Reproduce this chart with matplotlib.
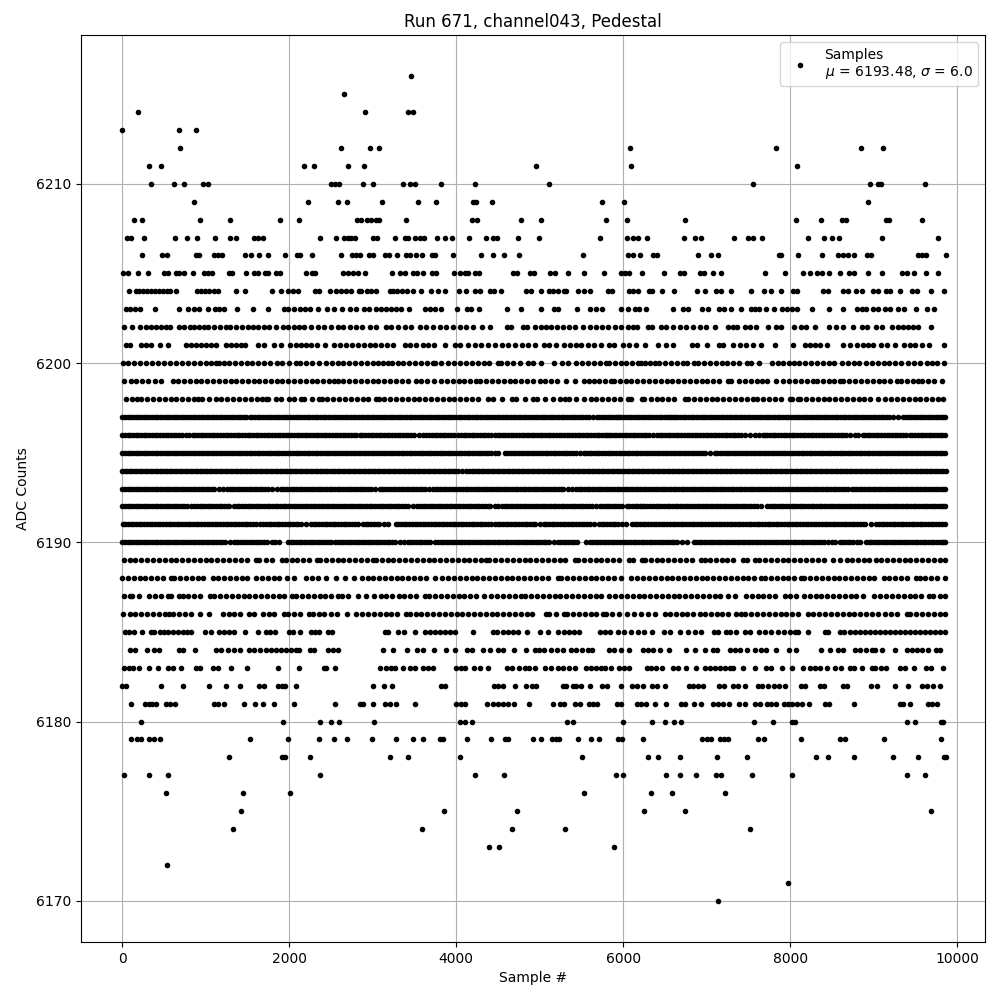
import matplotlib
matplotlib.use('Agg')
import matplotlib.pyplot as plt
import numpy as np

# Sample numbers, one list per ADC level
adc_6216 = [3456]
adc_6215 = [2652]
adc_6214 = [192, 2904, 3420, 3484]
adc_6213 = [0, 684, 888]
adc_6212 = [696, 2616, 2964, 3072, 6088, 7828, 8848, 9112]
adc_6211 = [324, 468, 2184, 2304, 2700, 2892, 4952, 6100, 8080]
adc_6210 = [348, 624, 744, 972, 1032, 2504, 2544, 2592, 2880, 3000, 3360, 3444, 3504, 3816, 4224, 5116, 7552, 8956, 9056, 9088, 9616]
adc_6209 = [864, 2232, 2580, 2688, 3108, 3540, 3756, 4204, 4236, 4428, 5752, 6016, 8932]
adc_6208 = [144, 240, 936, 1296, 1896, 2124, 2816, 2856, 2928, 2984, 3044, 3080, 3396, 4196, 4252, 4776, 5020, 5800, 6052, 6736, 8068, 8368, 8624, 8664, 9144, 9184, 9580]
adc_6207 = [64, 104, 264, 636, 780, 900, 1116, 1296, 1368, 1584, 1624, 1692, 2376, 2556, 2652, 2700, 2740, 2784, 3004, 3052, 3264, 3384, 3424, 3504, 3564, 3616, 3768, 3864, 3948, 4152, 4356, 4436, 4492, 4740, 4988, 5728, 6052, 6120, 6176, 6292, 6724, 6864, 6928, 7324, 7492, 7556, 7660, 8212, 8404, 8500, 8584, 9100, 9772]
adc_6206 = [240, 476, 532, 884, 924, 1104, 1144, 1192, 1476, 1548, 1644, 1752, 1956, 2096, 2136, 2280, 2616, 2748, 2804, 2852, 2952, 3004, 3152, 3192, 3288, 3396, 3452, 3520, 3592, 3712, 3752, 3960, 4296, 4440, 4572, 4752, 5524, 6060, 6116, 6208, 6356, 6404, 6896, 7056, 7132, 7872, 7896, 8092, 8380, 8576, 8636, 8696, 8764, 8920, 8972, 9536, 9584, 9632, 9864]
adc_6205 = [16, 72, 192, 312, 504, 544, 644, 684, 736, 852, 984, 1032, 1080, 1284, 1312, 1488, 1576, 1624, 1712, 1752, 1844, 1896, 2208, 2276, 2312, 2644, 2704, 2764, 2824, 2904, 3228, 3328, 3384, 3488, 3536, 3608, 3716, 3764, 3976, 4044, 4104, 4144, 4232, 4280, 4680, 4732, 4884, 4932, 5128, 5188, 5344, 5536, 5776, 5976, 6024, 6076, 6224, 6484, 6676, 6728, 6916, 6968, 7072, 7168, 7696, 7936, 8152, 8236, 8328, 8376, 8464, 8596, 8704, 8768, 8932, 9100, 9340, 9400, 9484, 9628, 9772]
adc_6204 = [84, 164, 204, 256, 304, 344, 392, 444, 492, 536, 576, 644, 896, 944, 996, 1044, 1096, 1152, 1364, 1476, 1800, 1908, 1992, 2044, 2104, 2312, 2360, 2488, 2564, 2624, 2684, 2744, 2832, 2864, 2928, 2984, 3036, 3204, 3244, 3296, 3352, 3416, 3484, 3584, 3704, 3780, 3864, 4032, 4116, 4224, 4284, 4404, 4456, 4536, 4836, 4896, 5020, 5116, 5156, 5224, 5288, 5320, 5464, 5528, 5608, 5816, 5864, 6076, 6120, 6184, 6316, 6344, 6460, 6604, 6884, 6976, 7108, 7176, 7296, 7536, 7688, 7776, 7888, 8036, 8084, 8392, 8456, 8628, 8688, 8788, 8864, 8996, 9048, 9144, 9200, 9316, 9456, 9516, 9688, 9844]
adc_6203 = [44, 96, 152, 216, 396, 680, 792, 856, 924, 1024, 1108, 1164, 1224, 1380, 1572, 1744, 1944, 1984, 2064, 2136, 2192, 2256, 2352, 2460, 2536, 2636, 2728, 2796, 2896, 2952, 3044, 3104, 3164, 3224, 3284, 3344, 3432, 3624, 3684, 3744, 3824, 4016, 4128, 4184, 4280, 4604, 4776, 5016, 5176, 5224, 5452, 5608, 5676, 5744, 5976, 6060, 6144, 6196, 6276, 6596, 6720, 6776, 6940, 7012, 7148, 7208, 7296, 7408, 7528, 7584, 7624, 7708, 7804, 7904, 7968, 8024, 8080, 8260, 8468, 8636, 8796, 8856, 8904, 8996, 9056, 9136, 9196, 9296, 9364, 9508, 9640, 9720]
adc_6202 = [24, 124, 216, 284, 344, 404, 464, 524, 576, 684, 744, 816, 864, 924, 976, 1032, 1096, 1176, 1244, 1296, 1364, 1432, 1504, 1564, 1632, 1696, 1764, 1844, 1924, 1984, 2056, 2124, 2184, 2264, 2344, 2424, 2504, 2584, 2644, 2724, 2804, 2872, 2964, 3036, 3164, 3224, 3304, 3384, 3464, 3564, 3644, 3724, 3804, 3884, 3964, 4044, 4124, 4204, 4316, 4408, 4604, 4660, 4804, 4844, 4940, 5016, 5076, 5136, 5208, 5276, 5356, 5424, 5516, 5608, 5676, 5744, 5824, 5904, 5976, 6056, 6116, 6168, 6304, 6344, 6448, 6516, 6596, 6676, 6756, 6836, 6916, 6996, 7096, 7252, 7316, 7368, 7456, 7516, 7596, 7732, 7828, 7888, 8048, 8128, 8196, 8296, 8464, 8544, 8636, 8752, 8856, 8916, 9024, 9096, 9216, 9296, 9356, 9416, 9476, 9536, 9692]
adc_6201 = [44, 96, 224, 284, 352, 456, 552, 764, 824, 884, 944, 1004, 1064, 1124, 1244, 1304, 1364, 1424, 1472, 1624, 1696, 1824, 1904, 2016, 2084, 2144, 2204, 2264, 2336, 2436, 2536, 2604, 2684, 2752, 2824, 2896, 2964, 3032, 3104, 3176, 3244, 3384, 3452, 3524, 3604, 3664, 3732, 3864, 3992, 4044, 4144, 4224, 4304, 4384, 4464, 4544, 4624, 4704, 4784, 4864, 4944, 5048, 5116, 5196, 5296, 5368, 5436, 5496, 5576, 5656, 5736, 5836, 5896, 5996, 6076, 6156, 6268, 6416, 6516, 6596, 6824, 6888, 7004, 7148, 7196, 7316, 7396, 7476, 7556, 7656, 7816, 8036, 8176, 8236, 8296, 8356, 8436, 8636, 8716, 8796, 8876, 8936, 8996, 9088, 9156, 9256, 9368, 9436, 9496, 9576, 9664, 9848]
adc_6200 = [8, 70, 140, 210, 290, 360, 430, 500, 570, 640, 716, 790, 860, 930, 1000, 1060, 1120, 1156, 1220, 1280, 1348, 1420, 1490, 1560, 1630, 1700, 1770, 1850, 1920, 1996, 2080, 2128, 2200, 2280, 2360, 2440, 2508, 2580, 2650, 2720, 2790, 2860, 2930, 3000, 3070, 3130, 3190, 3228, 3300, 3370, 3440, 3510, 3580, 3650, 3720, 3752, 3824, 3908, 3980, 4050, 4120, 4190, 4260, 4330, 4400, 4500, 4540, 4610, 4680, 4768, 4860, 4916, 5016, 5168, 5264, 5344, 5432, 5510, 5580, 5652, 5720, 5792, 5828, 5900, 5970, 6040, 6110, 6180, 6212, 6260, 6320, 6380, 6428, 6500, 6570, 6640, 6712, 6760, 6850, 6900, 6970, 7040, 7110, 7180, 7250, 7320, 7390, 7484, 7536, 7624, 7780, 7850, 7920, 7990, 8052, 8112, 8180, 8250, 8320, 8390, 8464, 8524, 8620, 8690, 8760, 8830, 8912, 8980, 9050, 9120, 9190, 9260, 9330, 9412, 9480, 9552, 9640, 9700, 9764, 9840]
adc_6199 = [24, 104, 170, 240, 310, 390, 464, 604, 670, 740, 810, 880, 950, 1020, 1090, 1160, 1230, 1300, 1370, 1440, 1510, 1580, 1644, 1712, 1780, 1850, 1920, 1990, 2060, 2130, 2200, 2270, 2340, 2410, 2480, 2536, 2584, 2650, 2720, 2790, 2860, 2930, 3000, 3070, 3140, 3210, 3280, 3350, 3420, 3524, 3576, 3650, 3736, 3816, 3890, 3960, 4030, 4100, 4170, 4244, 4292, 4360, 4430, 4500, 4570, 4640, 4710, 4780, 4850, 4916, 5000, 5070, 5140, 5210, 5316, 5428, 5536, 5596, 5656, 5708, 5780, 5856, 5888, 5960, 6030, 6100, 6170, 6240, 6310, 6380, 6450, 6520, 6590, 6660, 6730, 6800, 6870, 6940, 7010, 7080, 7150, 7256, 7296, 7384, 7456, 7530, 7600, 7664, 7728, 7836, 7916, 7990, 8060, 8130, 8200, 8270, 8328, 8388, 8460, 8530, 8596, 8636, 8710, 8780, 8850, 8920, 8990, 9060, 9130, 9200, 9276, 9324, 9400, 9470, 9536, 9576, 9650, 9720, 9816]
adc_6198 = [44, 120, 184, 232, 300, 370, 440, 510, 580, 650, 720, 790, 860, 904, 952, 1044, 1124, 1190, 1260, 1330, 1400, 1470, 1540, 1610, 1680, 1724, 1744, 1844, 1904, 2004, 2056, 2144, 2184, 2270, 2364, 2392, 2460, 2530, 2600, 2670, 2740, 2810, 2880, 2950, 3044, 3072, 3140, 3210, 3280, 3350, 3420, 3490, 3560, 3630, 3700, 3770, 3840, 3910, 3980, 4050, 4120, 4190, 4260, 4384, 4444, 4550, 4664, 4712, 4820, 4924, 4964, 5060, 5156, 5248, 5304, 5356, 5436, 5536, 5610, 5680, 5750, 5820, 5890, 5960, 6056, 6096, 6224, 6256, 6330, 6400, 6470, 6540, 6610, 6736, 6776, 6850, 6920, 6990, 7060, 7130, 7200, 7270, 7340, 7410, 7480, 7556, 7608, 7680, 7750, 7820, 7890, 7996, 8028, 8096, 8116, 8190, 8260, 8330, 8400, 8470, 8540, 8610, 8680, 8750, 8820, 8890, 8960, 9056, 9136, 9210, 9280, 9350, 9420, 9490, 9560, 9630, 9700, 9770, 9836]
adc_6197 = [0, 32, 65, 97, 130, 162, 195, 227, 260, 292, 325, 357, 390, 422, 455, 487, 520, 552, 585, 617, 650, 682, 715, 747, 780, 812, 845, 877, 910, 942, 975, 1007, 1040, 1072, 1105, 1137, 1170, 1202, 1235, 1267, 1300, 1332, 1365, 1397, 1430, 1460, 1484, 1528, 1560, 1590, 1625, 1655, 1690, 1720, 1755, 1785, 1820, 1850, 1885, 1915, 1950, 1980, 2015, 2045, 2080, 2110, 2145, 2175, 2210, 2240, 2275, 2305, 2340, 2370, 2405, 2435, 2470, 2500, 2535, 2565, 2600, 2630, 2665, 2695, 2730, 2760, 2795, 2825, 2860, 2890, 2925, 2955, 2990, 3020, 3055, 3085, 3120, 3150, 3185, 3215, 3250, 3280, 3315, 3345, 3380, 3410, 3445, 3475, 3510, 3540, 3575, 3605, 3640, 3670, 3705, 3735, 3770, 3800, 3835, 3865, 3900, 3930, 3965, 3995, 4030, 4060, 4095, 4125, 4160, 4190, 4225, 4255, 4290, 4320, 4355, 4385, 4420, 4450, 4485, 4515, 4550, 4580, 4615, 4645, 4680, 4710, 4745, 4775, 4810, 4840, 4875, 4905, 4940, 4970, 5005, 5035, 5070, 5100, 5135, 5165, 5200, 5230, 5265, 5295, 5330, 5360, 5395, 5425, 5460, 5490, 5525, 5555, 5590, 5636, 5684, 5716, 5750, 5782, 5815, 5847, 5880, 5912, 5944, 5968, 6000, 6035, 6065, 6100, 6130, 6165, 6195, 6230, 6260, 6295, 6325, 6360, 6390, 6425, 6455, 6490, 6520, 6555, 6575, 6596, 6616, 6648, 6680, 6712, 6745, 6777, 6810, 6842, 6875, 6907, 6940, 6972, 7005, 7037, 7070, 7102, 7135, 7167, 7200, 7232, 7265, 7297, 7330, 7362, 7395, 7427, 7460, 7492, 7525, 7557, 7590, 7622, 7655, 7687, 7720, 7752, 7785, 7817, 7850, 7882, 7915, 7947, 7980, 8012, 8045, 8077, 8110, 8142, 8175, 8207, 8240, 8272, 8305, 8337, 8370, 8402, 8435, 8467, 8500, 8532, 8565, 8597, 8630, 8662, 8695, 8727, 8760, 8792, 8825, 8857, 8890, 8922, 8955, 8987, 9020, 9052, 9085, 9117, 9150, 9190, 9236, 9296, 9356, 9388, 9420, 9452, 9485, 9517, 9550, 9582, 9615, 9647, 9680, 9712, 9745, 9777, 9810, 9835, 9860]
adc_6196 = [0, 32, 65, 97, 130, 162, 195, 227, 260, 292, 325, 357, 390, 422, 455, 487, 520, 552, 585, 617, 650, 682, 715, 760, 804, 844, 877, 910, 942, 975, 1007, 1040, 1072, 1105, 1137, 1170, 1207, 1244, 1272, 1306, 1340, 1372, 1405, 1437, 1470, 1502, 1535, 1567, 1600, 1632, 1665, 1700, 1736, 1764, 1797, 1830, 1862, 1895, 1927, 1960, 1992, 2025, 2057, 2090, 2122, 2155, 2187, 2220, 2252, 2285, 2317, 2350, 2382, 2415, 2447, 2480, 2512, 2545, 2577, 2610, 2642, 2675, 2707, 2740, 2772, 2804, 2844, 2877, 2910, 2942, 2975, 3007, 3040, 3072, 3105, 3137, 3170, 3202, 3235, 3267, 3300, 3332, 3365, 3397, 3430, 3462, 3495, 3550, 3604, 3644, 3677, 3710, 3742, 3775, 3807, 3840, 3872, 3905, 3940, 3976, 4024, 4057, 4090, 4122, 4155, 4187, 4220, 4252, 4285, 4317, 4350, 4382, 4415, 4460, 4504, 4524, 4557, 4590, 4622, 4655, 4687, 4720, 4752, 4785, 4817, 4850, 4877, 4904, 4936, 4968, 5000, 5032, 5065, 5097, 5130, 5162, 5195, 5227, 5260, 5292, 5325, 5357, 5390, 5422, 5455, 5487, 5520, 5552, 5585, 5617, 5650, 5682, 5715, 5747, 5780, 5808, 5836, 5856, 5888, 5920, 5952, 5985, 6017, 6050, 6082, 6115, 6147, 6180, 6212, 6245, 6277, 6310, 6360, 6408, 6436, 6468, 6500, 6532, 6565, 6597, 6630, 6662, 6695, 6727, 6760, 6792, 6825, 6857, 6890, 6922, 6955, 6987, 7020, 7052, 7085, 7117, 7150, 7182, 7215, 7247, 7280, 7312, 7345, 7377, 7410, 7460, 7516, 7584, 7630, 7676, 7696, 7728, 7760, 7792, 7825, 7857, 7890, 7922, 7955, 7987, 8020, 8052, 8085, 8117, 8150, 8182, 8215, 8247, 8280, 8312, 8345, 8377, 8410, 8442, 8475, 8507, 8540, 8572, 8605, 8637, 8670, 8722, 8776, 8816, 8876, 8896, 8928, 8960, 8992, 9025, 9057, 9090, 9122, 9155, 9187, 9220, 9252, 9285, 9317, 9350, 9393, 9436, 9464, 9497, 9530, 9562, 9595, 9627, 9660, 9692, 9725, 9757, 9790, 9822, 9856]
adc_6195 = [0, 65, 130, 195, 260, 325, 390, 455, 520, 585, 650, 715, 780, 845, 910, 975, 1040, 1105, 1170, 1235, 1300, 1365, 1430, 1495, 1560, 1625, 1690, 1755, 1820, 1885, 1950, 2015, 2080, 2145, 2210, 2275, 2340, 2405, 2470, 2535, 2600, 2665, 2730, 2795, 2860, 2925, 2990, 3055, 3120, 3185, 3250, 3315, 3380, 3445, 3510, 3575, 3640, 3705, 3770, 3835, 3900, 3965, 4030, 4095, 4160, 4225, 4290, 4355, 4420, 4500, 4580, 4645, 4710, 4775, 4840, 4905, 4970, 5040, 5105, 5170, 5235, 5300, 5365, 5430, 5536, 5556, 5620, 5685, 5750, 5815, 5880, 5945, 6010, 6075, 6140, 6205, 6270, 6335, 6400, 6465, 6530, 6595, 6660, 6725, 6790, 6855, 6920, 6985, 7096, 7128, 7195, 7260, 7325, 7390, 7455, 7520, 7585, 7650, 7715, 7780, 7845, 7910, 7975, 8040, 8105, 8170, 8235, 8300, 8365, 8430, 8495, 8560, 8625, 8690, 8755, 8820, 8885, 8950, 9015, 9080, 9145, 9210, 9275, 9340, 9405, 9470, 9535, 9600, 9665, 9730, 9795, 9850]
adc_6195b = [32, 97, 162, 227, 292, 357, 422, 487, 552, 617, 682, 747, 812, 877, 942, 1007, 1072, 1137, 1202, 1267, 1332, 1397, 1462, 1527, 1592, 1657, 1722, 1787, 1852, 1917, 1982, 2047, 2112, 2177, 2242, 2307, 2372, 2437, 2502, 2567, 2632, 2697, 2762, 2827, 2892, 2957, 3022, 3087, 3152, 3217, 3282, 3347, 3412, 3477, 3542, 3607, 3672, 3737, 3802, 3867, 3932, 3997, 4062, 4127, 4192, 4257, 4322, 4387, 4460, 4612, 4677, 4742, 4807, 4872, 4937, 5005, 5072, 5137, 5202, 5267, 5332, 5397, 5480, 5588, 5652, 5717, 5782, 5847, 5912, 5977, 6042, 6107, 6172, 6237, 6302, 6367, 6432, 6497, 6562, 6627, 6692, 6757, 6822, 6887, 6952, 7040, 7160, 7227, 7292, 7357, 7422, 7487, 7552, 7617, 7682, 7747, 7812, 7877, 7942, 8007, 8072, 8137, 8202, 8267, 8332, 8397, 8462, 8527, 8592, 8657, 8722, 8787, 8852, 8917, 8982, 9047, 9112, 9177, 9242, 9307, 9372, 9437, 9502, 9567, 9632, 9697, 9762, 9825]
adc_6194 = [0, 60, 120, 180, 240, 300, 360, 420, 480, 540, 600, 660, 720, 780, 840, 900, 960, 1020, 1080, 1140, 1200, 1260, 1320, 1380, 1440, 1500, 1560, 1620, 1680, 1740, 1800, 1860, 1920, 1980, 2040, 2100, 2160, 2220, 2280, 2340, 2400, 2460, 2520, 2580, 2640, 2700, 2760, 2820, 2880, 2940, 3000, 3060, 3120, 3180, 3240, 3300, 3360, 3420, 3480, 3540, 3600, 3660, 3720, 3780, 3840, 3900, 3960, 4020, 4120, 4152, 4215, 4275, 4335, 4395, 4455, 4515, 4575, 4635, 4695, 4755, 4815, 4875, 4935, 4995, 5055, 5115, 5175, 5235, 5295, 5355, 5415, 5475, 5535, 5595, 5655, 5715, 5775, 5835, 5895, 5955, 6015, 6075, 6135, 6195, 6255, 6315, 6375, 6435, 6495, 6555, 6615, 6675, 6735, 6795, 6855, 6915, 6975, 7035, 7095, 7155, 7215, 7275, 7335, 7395, 7455, 7515, 7575, 7635, 7695, 7755, 7815, 7875, 7935, 7995, 8055, 8115, 8175, 8235, 8295, 8355, 8415, 8475, 8535, 8595, 8655, 8715, 8775, 8835, 8895, 8955, 9015, 9075, 9135, 9195, 9255, 9315, 9375, 9435, 9495, 9555, 9615, 9675, 9735, 9795, 9864]
adc_6194b = [30, 90, 150, 210, 270, 330, 390, 450, 510, 570, 630, 690, 750, 810, 870, 930, 990, 1050, 1110, 1170, 1230, 1290, 1350, 1410, 1470, 1530, 1590, 1650, 1710, 1770, 1830, 1890, 1950, 2010, 2070, 2130, 2190, 2250, 2310, 2370, 2430, 2490, 2550, 2610, 2670, 2730, 2790, 2850, 2910, 2970, 3030, 3090, 3150, 3210, 3270, 3330, 3390, 3450, 3510, 3570, 3630, 3690, 3750, 3810, 3870, 3930, 3990, 4070, 4185, 4245, 4305, 4365, 4425, 4485, 4545, 4605, 4665, 4725, 4785, 4845, 4905, 4965, 5025, 5085, 5145, 5205, 5265, 5325, 5385, 5445, 5505, 5565, 5625, 5685, 5745, 5805, 5865, 5925, 5985, 6045, 6105, 6165, 6225, 6285, 6345, 6405, 6465, 6525, 6585, 6645, 6705, 6765, 6825, 6885, 6945, 7005, 7065, 7125, 7185, 7245, 7305, 7365, 7425, 7485, 7545, 7605, 7665, 7725, 7785, 7845, 7905, 7965, 8025, 8085, 8145, 8205, 8265, 8325, 8385, 8445, 8505, 8565, 8625, 8685, 8745, 8805, 8865, 8925, 8985, 9045, 9105, 9165, 9225, 9285, 9345, 9405, 9465, 9525, 9585, 9645, 9705, 9765, 9830]
adc_6193 = [0, 65, 130, 195, 260, 325, 390, 455, 520, 585, 650, 715, 780, 845, 910, 975, 1040, 1105, 1212, 1256, 1320, 1385, 1450, 1515, 1580, 1616, 1680, 1745, 1860, 1900, 1965, 2030, 2095, 2160, 2225, 2290, 2355, 2420, 2485, 2550, 2615, 2680, 2745, 2812, 2844, 2910, 2975, 3084, 3108, 3175, 3240, 3305, 3370, 3435, 3500, 3565, 3630, 3720, 3756, 3820, 3885, 3950, 4015, 4080, 4116, 4180, 4245, 4310, 4375, 4440, 4505, 4570, 4635, 4700, 4765, 4830, 4895, 4960, 5025, 5090, 5155, 5220, 5285, 5392, 5432, 5500, 5565, 5630, 5695, 5760, 5825, 5890, 5955, 6020, 6085, 6150, 6215, 6280, 6345, 6410, 6475, 6540, 6605, 6670, 6735, 6800, 6865, 6930, 6995, 7060, 7125, 7190, 7255, 7320, 7385, 7450, 7515, 7580, 7645, 7710, 7775, 7840, 7905, 7970, 8035, 8100, 8165, 8230, 8295, 8360, 8425, 8490, 8555, 8620, 8692, 8736, 8800, 8865, 8930, 8992, 9016, 9080, 9145, 9210, 9275, 9340, 9405, 9470, 9535, 9600, 9665, 9730, 9795, 9860]
adc_6193b = [32, 97, 162, 227, 292, 357, 422, 487, 552, 617, 682, 747, 812, 877, 942, 1007, 1072, 1160, 1288, 1352, 1417, 1482, 1548, 1648, 1712, 1800, 1932, 1997, 2062, 2127, 2192, 2257, 2322, 2387, 2452, 2517, 2582, 2647, 2712, 2778, 2877, 2942, 3030, 3141, 3207, 3272, 3337, 3402, 3467, 3532, 3597, 3675, 3788, 3852, 3917, 3982, 4047, 4148, 4212, 4277, 4342, 4407, 4472, 4537, 4602, 4667, 4732, 4797, 4862, 4927, 4992, 5057, 5122, 5187, 5252, 5338, 5466, 5532, 5597, 5662, 5727, 5792, 5857, 5922, 5987, 6052, 6117, 6182, 6247, 6312, 6377, 6442, 6507, 6572, 6637, 6702, 6767, 6832, 6897, 6962, 7027, 7092, 7157, 7222, 7287, 7352, 7417, 7482, 7547, 7612, 7677, 7742, 7807, 7872, 7937, 8002, 8067, 8132, 8197, 8262, 8327, 8392, 8457, 8522, 8587, 8655, 8768, 8832, 8897, 8960, 9048, 9112, 9177, 9242, 9307, 9372, 9437, 9502, 9567, 9632, 9697, 9762, 9827]
adc_6192 = [0, 65, 130, 195, 260, 325, 390, 455, 520, 585, 650, 715, 780, 860, 896, 960, 1025, 1090, 1155, 1220, 1285, 1380, 1404, 1470, 1535, 1600, 1665, 1730, 1795, 1860, 1925, 1990, 2055, 2120, 2185, 2250, 2315, 2380, 2445, 2510, 2575, 2640, 2705, 2770, 2835, 2900, 2965, 3030, 3095, 3160, 3225, 3290, 3355, 3420, 3532, 3568, 3630, 3695, 3760, 3825, 3890, 3955, 4020, 4085, 4150, 4215, 4280, 4345, 4410, 4500, 4552, 4615, 4680, 4745, 4810, 4875, 4940, 5005, 5070, 5135, 5200, 5265, 5330, 5395, 5460, 5525, 5590, 5680, 5728, 5790, 5855, 5920, 5985, 6044, 6076, 6140, 6205, 6256, 6288, 6328, 6390, 6455, 6520, 6585, 6650, 6684, 6750, 6815, 6880, 6945, 7010, 7075, 7140, 7205, 7270, 7335, 7400, 7465, 7530, 7600, 7656, 7728, 7790, 7855, 7920, 7985, 8050, 8115, 8180, 8245, 8310, 8375, 8440, 8505, 8570, 8635, 8700, 8765, 8830, 8895, 8960, 9025, 9090, 9155, 9220, 9285, 9350, 9415, 9480, 9545, 9610, 9675, 9740, 9805, 9860]
adc_6192b = [32, 97, 162, 227, 292, 357, 422, 487, 552, 617, 682, 747, 820, 928, 992, 1057, 1122, 1187, 1252, 1335, 1437, 1502, 1567, 1632, 1697, 1762, 1827, 1892, 1957, 2022, 2087, 2152, 2217, 2282, 2347, 2412, 2477, 2542, 2607, 2672, 2737, 2802, 2867, 2932, 2997, 3062, 3127, 3192, 3257, 3322, 3387, 3480, 3600, 3662, 3727, 3792, 3857, 3922, 3987, 4052, 4117, 4182, 4247, 4312, 4377, 4460, 4584, 4647, 4712, 4777, 4842, 4907, 4972, 5037, 5102, 5167, 5232, 5297, 5362, 5427, 5492, 5557, 5630, 5760, 5822, 5887, 5952, 6108, 6172, 6230, 6360, 6422, 6487, 6552, 6617, 6717, 6782, 6847, 6912, 6977, 7042, 7107, 7172, 7237, 7302, 7367, 7432, 7497, 7565, 7760, 7822, 7887, 7952, 8017, 8082, 8147, 8212, 8277, 8342, 8407, 8472, 8537, 8602, 8667, 8732, 8797, 8862, 8927, 8992, 9057, 9122, 9187, 9252, 9317, 9382, 9447, 9512, 9577, 9642, 9707, 9772, 9832]
adc_6191 = [8, 70, 135, 200, 265, 330, 395, 460, 525, 590, 655, 720, 785, 850, 915, 980, 1045, 1110, 1175, 1240, 1305, 1370, 1435, 1500, 1565, 1650, 1690, 1755, 1820, 1885, 1950, 2015, 2080, 2145, 2260, 2296, 2360, 2425, 2490, 2555, 2620, 2685, 2750, 2828, 2888, 2950, 3015, 3080, 3190, 3276, 3340, 3405, 3470, 3535, 3600, 3665, 3730, 3795, 3860, 3925, 3990, 4055, 4120, 4185, 4250, 4315, 4380, 4460, 4496, 4560, 4625, 4690, 4755, 4820, 4885, 4950, 5056, 5080, 5145, 5210, 5275, 5340, 5405, 5470, 5535, 5600, 5710, 5744, 5810, 5875, 5940, 6040, 6108, 6170, 6235, 6300, 6365, 6430, 6495, 6560, 6625, 6690, 6755, 6820, 6885, 6950, 7015, 7080, 7145, 7210, 7275, 7340, 7405, 7470, 7535, 7600, 7665, 7730, 7795, 7860, 7925, 7990, 8055, 8120, 8185, 8250, 8315, 8380, 8445, 8510, 8575, 8640, 8705, 8770, 8835, 8900, 9030, 9064, 9130, 9195, 9260, 9325, 9390, 9455, 9520, 9585, 9650, 9715, 9780, 9860]
adc_6191b = [40, 102, 167, 232, 297, 362, 427, 492, 557, 622, 687, 752, 817, 882, 947, 1012, 1077, 1142, 1207, 1272, 1337, 1402, 1467, 1532, 1608, 1722, 1787, 1852, 1917, 1982, 2047, 2112, 2200, 2328, 2392, 2457, 2522, 2587, 2652, 2717, 2790, 2918, 2982, 3047, 3135, 3308, 3372, 3437, 3502, 3567, 3632, 3697, 3762, 3827, 3892, 3957, 4022, 4087, 4152, 4217, 4282, 4347, 4420, 4528, 4592, 4657, 4722, 4787, 4852, 4917, 5000, 5112, 5177, 5242, 5307, 5372, 5437, 5502, 5567, 5655, 5776, 5842, 5907, 5990, 6139, 6202, 6267, 6332, 6397, 6462, 6527, 6592, 6657, 6722, 6787, 6852, 6917, 6982, 7047, 7112, 7177, 7242, 7307, 7372, 7437, 7502, 7567, 7632, 7697, 7762, 7827, 7892, 7957, 8022, 8087, 8152, 8217, 8282, 8347, 8412, 8477, 8542, 8607, 8672, 8737, 8802, 8867, 8965, 9097, 9162, 9227, 9292, 9357, 9422, 9487, 9552, 9617, 9682, 9747, 9820]
adc_6190 = [0, 65, 130, 195, 260, 325, 390, 455, 520, 585, 650, 715, 780, 845, 910, 975, 1040, 1105, 1170, 1235, 1344, 1360, 1425, 1490, 1564, 1600, 1665, 1730, 1880, 1984, 2050, 2115, 2180, 2245, 2310, 2375, 2440, 2505, 2584, 2616, 2680, 2745, 2810, 2875, 2940, 3005, 3070, 3135, 3200, 3272, 3332, 3376, 3420, 3485, 3550, 3615, 3684, 3752, 3815, 3880, 3945, 4010, 4075, 4140, 4205, 4270, 4335, 4400, 4465, 4530, 4595, 4660, 4725, 4790, 4855, 4920, 4985, 5050, 5115, 5226, 5256, 5320, 5385, 5450, 5560, 5608, 5670, 5735, 5800, 5865, 5930, 5995, 6060, 6125, 6190, 6255, 6320, 6385, 6450, 6515, 6580, 6645, 6770, 6844, 6905, 6970, 7035, 7100, 7165, 7230, 7295, 7360, 7425, 7490, 7555, 7620, 7685, 7750, 7815, 7880, 7945, 8010, 8075, 8140, 8205, 8270, 8335, 8400, 8496, 8536, 8596, 8624, 8690, 8755, 8840, 8908, 8970, 9035, 9100, 9165, 9230, 9295, 9360, 9425, 9490, 9555, 9620, 9685, 9750, 9815, 9860]
adc_6190b = [32, 97, 162, 227, 292, 357, 422, 487, 552, 617, 682, 747, 812, 877, 942, 1007, 1072, 1137, 1202, 1290, 1392, 1457, 1527, 1632, 1697, 1795, 1835, 2017, 2082, 2147, 2212, 2277, 2342, 2407, 2472, 2545, 2648, 2712, 2777, 2842, 2907, 2972, 3037, 3102, 3167, 3235, 3452, 3517, 3582, 3650, 3784, 3847, 3912, 3977, 4042, 4107, 4172, 4237, 4302, 4367, 4432, 4497, 4562, 4627, 4692, 4757, 4822, 4887, 4952, 5017, 5082, 5170, 5288, 5352, 5417, 5640, 5702, 5767, 5832, 5897, 5962, 6027, 6092, 6157, 6222, 6287, 6352, 6417, 6482, 6547, 6612, 6707, 6875, 6937, 7002, 7067, 7132, 7197, 7262, 7327, 7392, 7457, 7522, 7587, 7652, 7717, 7782, 7847, 7912, 7977, 8042, 8107, 8172, 8237, 8302, 8367, 8448, 8657, 8722, 8797, 8939, 9002, 9067, 9132, 9197, 9262, 9327, 9392, 9457, 9522, 9587, 9652, 9717, 9782, 9837]
adc_6189 = [20, 90, 160, 230, 300, 370, 440, 510, 580, 650, 720, 790, 860, 930, 1000, 1070, 1140, 1210, 1280, 1350, 1420, 1490, 1600, 1640, 1720, 1800, 1920, 1960, 2030, 2100, 2170, 2240, 2330, 2370, 2440, 2510, 2580, 2650, 2720, 2790, 2860, 2930, 3000, 3040, 3110, 3180, 3250, 3320, 3390, 3460, 3530, 3600, 3670, 3740, 3810, 3880, 3950, 4020, 4090, 4160, 4230, 4300, 4360, 4400, 4470, 4540, 4610, 4680, 4750, 4820, 4890, 4960, 5030, 5100, 5170, 5240, 5310, 5420, 5456, 5530, 5600, 5670, 5740, 5810, 5880, 5950, 6070, 6116, 6224, 6264, 6330, 6400, 6470, 6540, 6610, 6680, 6750, 6820, 6934, 6976, 7040, 7110, 7180, 7250, 7320, 7436, 7480, 7580, 7628, 7700, 7770, 7840, 7910, 7980, 8050, 8120, 8190, 8260, 8330, 8400, 8516, 8600, 8684, 8744, 8810, 8880, 8950, 9030, 9088, 9160, 9230, 9300, 9370, 9440, 9510, 9580, 9650, 9720, 9790, 9860]
adc_6188 = [0, 70, 140, 210, 280, 350, 420, 490, 590, 624, 695, 765, 835, 905, 975, 1090, 1152, 1225, 1295, 1365, 1435, 1500, 1604, 1675, 1745, 1815, 1885, 1980, 2056, 2200, 2275, 2345, 2440, 2564, 2672, 2780, 2868, 2940, 3010, 3080, 3150, 3220, 3290, 3350, 3424, 3495, 3565, 3635, 3750, 3832, 3905, 3975, 4045, 4115, 4185, 4255, 4325, 4395, 4465, 4535, 4605, 4675, 4745, 4815, 4885, 4955, 5025, 5095, 5220, 5260, 5330, 5400, 5470, 5540, 5610, 5680, 5750, 5820, 5890, 5970, 6096, 6170, 6240, 6310, 6380, 6450, 6520, 6590, 6660, 6730, 6800, 6870, 6940, 7010, 7080, 7150, 7220, 7290, 7360, 7430, 7500, 7570, 7650, 7696, 7770, 7840, 7910, 7980, 8050, 8130, 8172, 8240, 8310, 8380, 8450, 8520, 8590, 8660, 8730, 8800, 8870, 8940, 9010, 9120, 9188, 9260, 9330, 9400, 9510, 9556, 9612, 9685, 9755, 9860]
adc_6187 = [24, 90, 120, 204, 320, 395, 465, 550, 590, 680, 724, 795, 865, 935, 1050, 1104, 1175, 1245, 1315, 1385, 1455, 1525, 1595, 1665, 1735, 1805, 1875, 1945, 2030, 2084, 2155, 2225, 2295, 2365, 2435, 2505, 2590, 2636, 2710, 2830, 2916, 3020, 3095, 3165, 3235, 3320, 3372, 3445, 3515, 3630, 3680, 3750, 3820, 3890, 3960, 4030, 4100, 4170, 4240, 4340, 4424, 4490, 4565, 4635, 4705, 4780, 4830, 4900, 4970, 5040, 5110, 5180, 5250, 5320, 5390, 5460, 5530, 5600, 5670, 5740, 5836, 5904, 5975, 6045, 6115, 6185, 6255, 6325, 6395, 6465, 6535, 6605, 6675, 6745, 6815, 6885, 6955, 7025, 7095, 7165, 7260, 7340, 7476, 7540, 7610, 7680, 7750, 7820, 7944, 8004, 8076, 8164, 8235, 8305, 8375, 8445, 8515, 8585, 8655, 8725, 8795, 8876, 9008, 9080, 9150, 9220, 9290, 9360, 9430, 9500, 9570, 9660, 9716, 9796, 9856]
adc_6186 = [16, 90, 160, 230, 300, 370, 440, 510, 564, 612, 685, 755, 825, 930, 1036, 1204, 1275, 1345, 1415, 1524, 1576, 1684, 1755, 1825, 1936, 1984, 2055, 2125, 2244, 2284, 2355, 2424, 2496, 2570, 2696, 2804, 2875, 2945, 3015, 3085, 3155, 3225, 3295, 3404, 3444, 3515, 3585, 3655, 3725, 3795, 3865, 3935, 4005, 4075, 4145, 4215, 4285, 4355, 4425, 4495, 4565, 4635, 4705, 4775, 4845, 4915, 5076, 5116, 5200, 5296, 5328, 5400, 5470, 5540, 5610, 5680, 5756, 5796, 5870, 5950, 6048, 6136, 6216, 6296, 6384, 6496, 6556, 6630, 6700, 6770, 6840, 6916, 6976, 7050, 7120, 7190, 7260, 7356, 7408, 7464, 7535, 7605, 7675, 7745, 7815, 7885, 7955, 8025, 8095, 8216, 8276, 8350, 8420, 8490, 8560, 8630, 8700, 8770, 8840, 8910, 8980, 9056, 9136, 9210, 9280, 9396, 9436, 9510, 9580, 9650, 9720, 9790, 9856]
adc_6185 = [32, 84, 144, 240, 352, 384, 456, 504, 552, 604, 664, 724, 776, 824, 992, 1064, 1164, 1224, 1284, 1344, 1476, 1632, 1724, 1776, 1832, 1996, 2044, 2136, 2264, 2312, 2364, 2464, 2512, 3144, 3184, 3304, 3376, 3504, 3624, 3684, 3744, 3804, 3864, 3924, 3984, 4204, 4444, 4484, 4564, 4624, 4684, 4744, 4844, 5004, 5096, 5216, 5296, 5356, 5416, 5476, 5724, 5784, 5844, 5944, 6016, 6096, 6176, 6256, 6344, 6484, 6556, 6676, 6776, 6856, 6936, 7088, 7136, 7236, 7276, 7356, 7456, 7516, 7624, 7696, 7776, 7856, 7932, 8000, 8064, 8096, 8212, 8416, 8456, 8596, 8644, 8716, 8780, 8840, 8900, 8960, 9020, 9080, 9140, 9200, 9260, 9320, 9380, 9440, 9500, 9560, 9620, 9680, 9740, 9800, 9860]
adc_6184 = [96, 152, 304, 384, 444, 684, 732, 876, 1124, 1184, 1272, 1344, 1412, 1524, 1576, 1656, 1724, 1784, 1844, 1904, 1964, 2024, 2084, 2124, 2252, 2304, 2464, 2524, 2584, 3120, 3240, 3408, 3536, 3604, 3736, 3884, 3984, 4136, 4192, 4324, 4404, 4504, 4564, 4692, 4836, 4944, 4992, 5056, 5136, 5208, 5276, 5376, 5436, 5504, 5576, 5624, 5836, 5896, 5976, 6076, 6236, 6296, 6356, 6436, 6544, 6756, 6864, 6976, 7076, 7128, 7276, 7336, 7396, 7480, 7584, 7656, 7716, 7836, 7984, 8076, 8368, 8476, 8568, 8636, 8776, 8836, 8904, 8976, 9016, 9100, 9256, 9396, 9456, 9516, 9576, 9656, 9744, 9796]
adc_6183 = [24, 84, 136, 200, 324, 436, 544, 612, 708, 884, 936, 1084, 1152, 1308, 1500, 1864, 2124, 2416, 2444, 2544, 3084, 3164, 3224, 3264, 3360, 3444, 3504, 3608, 3664, 3724, 3996, 4064, 4104, 4216, 4284, 4380, 4612, 4664, 4752, 4824, 4876, 4940, 5068, 5136, 5216, 5276, 5356, 5428, 5556, 5616, 5676, 5736, 5784, 5856, 5956, 6016, 6076, 6284, 6336, 6396, 6464, 6596, 6656, 6748, 6868, 6976, 7036, 7096, 7156, 7216, 7276, 7316, 7432, 7584, 7716, 7776, 7904, 8020, 8152, 8236, 8296, 8356, 8436, 8536, 8604, 8716, 8764, 8856, 8976, 9016, 9084, 9148, 9316, 9376, 9484, 9628, 9692, 9832]
adc_6182 = [4, 44, 468, 732, 1044, 1248, 1416, 1644, 1696, 1864, 1912, 1952, 2088, 3000, 3132, 3228, 3824, 3872, 4456, 4504, 4564, 4704, 4836, 4912, 4952, 5276, 5316, 5396, 5436, 5496, 5604, 5744, 5804, 5980, 6108, 6168, 6236, 6344, 6408, 6496, 6784, 6836, 6896, 6956, 7148, 7208, 7316, 7376, 7456, 7616, 7664, 7732, 7804, 7864, 7944, 8128, 8176, 8364, 8404, 8636, 8676, 8968, 9036, 9256, 9412, 9576, 9636, 9712, 9796]
adc_6181 = [108, 272, 324, 364, 412, 524, 576, 636, 1096, 1152, 1224, 1464, 1596, 1684, 1824, 2064, 2544, 2844, 2884, 3000, 3152, 3204, 3284, 3504, 4004, 4064, 4112, 4368, 4444, 4504, 4564, 4624, 4692, 4872, 5156, 5248, 5296, 5428, 5484, 5596, 5644, 5684, 5928, 5976, 6168, 6216, 6276, 6384, 6508, 6696, 6736, 6844, 6936, 7076, 7136, 7196, 7264, 7384, 7456, 7584, 7636, 7724, 7776, 7836, 7924, 7976, 8024, 8084, 8144, 8224, 8416, 8464, 8764, 9316, 9356, 9436, 9648, 9696, 9756]
adc_6180 = [228, 1932, 2376, 2496, 2592, 3012, 4044, 4104, 4188, 5324, 5404, 5996, 6344, 6496, 6604, 6688, 7564, 7792, 8028, 8056, 9400, 9496, 9808, 9828]
adc_6179 = [108, 184, 232, 324, 384, 456, 1536, 1992, 2364, 2532, 2688, 2988, 3276, 3480, 3600, 3804, 3844, 4128, 4416, 4584, 4616, 4920, 5012, 5144, 5196, 5228, 5460, 5616, 5716, 5936, 5984, 6244, 6940, 7008, 7056, 7156, 7208, 7256, 7616, 7684, 8128, 8596, 8656, 9124, 9808]
adc_6178 = [1284, 1916, 1952, 2256, 3204, 3420, 4044, 5512, 6304, 6412, 6676, 7120, 7480, 8308, 8452, 8764, 9232, 9532, 9844, 9864]
adc_6177 = [24, 324, 552, 2376, 4224, 4572, 5920, 5996, 6508, 6676, 6868, 7108, 7168, 7540, 8020, 9400, 9616]
adc_6176 = [528, 1452, 2016, 5536, 6340, 6580, 7216]
adc_6175 = [1428, 3852, 4728, 6256, 6736, 9688]
adc_6174 = [1332, 3588, 4668, 5308, 7516]
adc_6173 = [4392, 4512, 5896]
adc_6172 = [540]
adc_6171 = [7972]
adc_6170 = [7132]

adc_rows = [
    (6216, adc_6216), (6215, adc_6215), (6214, adc_6214), (6213, adc_6213),
    (6212, adc_6212), (6211, adc_6211), (6210, adc_6210), (6209, adc_6209),
    (6208, adc_6208), (6207, adc_6207), (6206, adc_6206), (6205, adc_6205),
    (6204, adc_6204), (6203, adc_6203), (6202, adc_6202), (6201, adc_6201),
    (6200, adc_6200), (6199, adc_6199), (6198, adc_6198), (6197, adc_6197),
    (6196, adc_6196), (6195, adc_6195), (6195, adc_6195b), (6194, adc_6194),
    (6194, adc_6194b), (6193, adc_6193), (6193, adc_6193b), (6192, adc_6192),
    (6192, adc_6192b), (6191, adc_6191), (6191, adc_6191b), (6190, adc_6190),
    (6190, adc_6190b), (6189, adc_6189), (6188, adc_6188), (6187, adc_6187),
    (6186, adc_6186), (6185, adc_6185), (6184, adc_6184), (6183, adc_6183),
    (6182, adc_6182), (6181, adc_6181), (6180, adc_6180), (6179, adc_6179),
    (6178, adc_6178), (6177, adc_6177), (6176, adc_6176), (6175, adc_6175),
    (6174, adc_6174), (6173, adc_6173), (6172, adc_6172), (6171, adc_6171),
    (6170, adc_6170),
]

samples = np.concatenate([row for _, row in adc_rows])
counts = np.concatenate([[level] * len(row) for level, row in adc_rows])

fig, ax = plt.subplots(figsize=(10, 10))
ax.plot(samples, counts, 'k.', label='Samples\n$\\mu$ = 6193.48, $\\sigma$ = 6.0')
ax.set_xlim(-492, 10334)
ax.set_title('Run 671, channel043, Pedestal')
ax.set_xlabel('Sample #')
ax.set_ylabel('ADC Counts')
ax.grid(True)
ax.legend(loc='upper right')
fig.subplots_adjust(left=0.081, right=0.985, top=0.965, bottom=0.058)
plt.savefig('out.png', dpi=100)
